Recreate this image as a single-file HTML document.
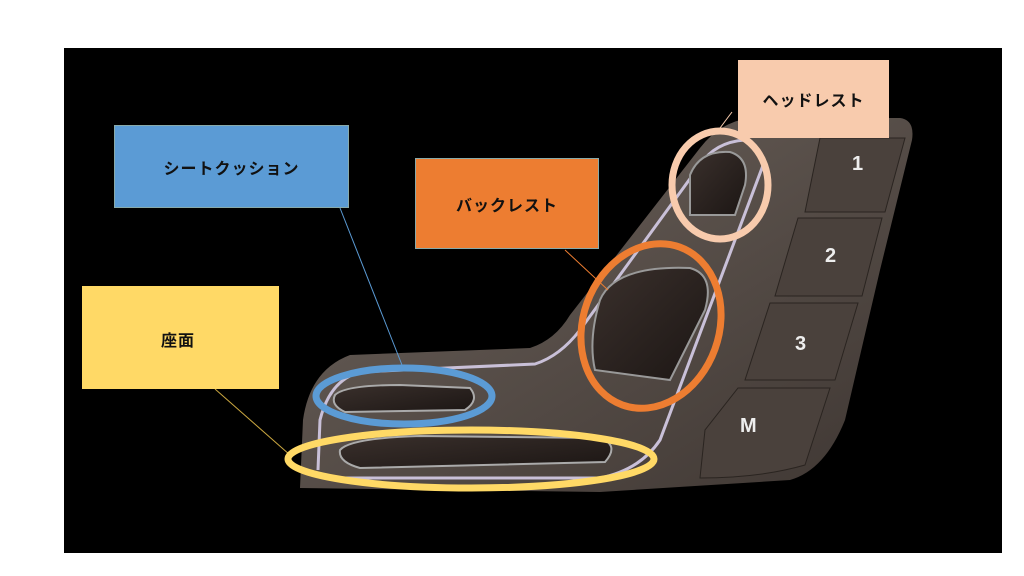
<!DOCTYPE html>
<html><head><meta charset="utf-8"><style>
body{margin:0;width:1024px;height:576px;background:#fff;overflow:hidden;font-family:"Liberation Sans","Noto Sans CJK JP",sans-serif}
.box{position:absolute;display:flex;align-items:center;justify-content:center;font-weight:bold;font-size:16px;color:#111;border:1px solid #8aa;box-sizing:border-box;letter-spacing:1px}
</style></head><body>
<svg width="1024" height="576" style="position:absolute;left:0;top:0">
<defs>
<linearGradient id="pg" x1="0" y1="0" x2="1" y2="1"><stop offset="0" stop-color="#6e645d"/><stop offset="1" stop-color="#3e3632"/></linearGradient>
<linearGradient id="bt" x1="0" y1="0" x2="1" y2="1"><stop offset="0" stop-color="#3a302c"/><stop offset="1" stop-color="#1c1614"/></linearGradient>
</defs>
<rect x="64" y="48" width="938" height="505" fill="#000"/>
<!-- panel -->
<path d="M300 488 L303 420 Q310 370 350 355 L530 348 Q555 340 570 315 L700 148 Q720 122 750 118 L900 118 Q915 120 912 140 L880 270 L845 420 Q825 470 790 480 L600 492 Z" fill="url(#pg)"/>
<path d="M318 470 L320 420 Q330 380 360 372 L535 364 Q560 356 580 330 L700 165 Q715 142 745 140" fill="none" stroke="#c9c0d8" stroke-width="3"/>
<path d="M330 478 L600 478 Q640 470 660 440 L765 160" fill="none" stroke="#c9c0d8" stroke-width="3"/>
<!-- buttons -->
<path d="M820 138 L905 138 L885 212 L805 212 Z" fill="#4a413c" stroke="#2a2420"/>
<path d="M798 218 L882 218 L862 296 L775 296 Z" fill="#4a413c" stroke="#2a2420"/>
<path d="M770 303 L858 303 L835 380 L745 380 Z" fill="#4a413c" stroke="#2a2420"/>
<path d="M738 388 L830 388 L805 465 Q760 478 700 478 L705 430 Z" fill="#4a413c" stroke="#2a2420"/>
<g fill="#eee" font-weight="bold" font-size="20" font-family="Liberation Sans">
<text x="852" y="170">1</text><text x="825" y="262">2</text><text x="795" y="350">3</text><text x="740" y="432">M</text></g>
<!-- controls -->
<path d="M690 175 Q700 150 730 152 Q750 158 745 185 L735 215 L690 215 Z" fill="url(#bt)" stroke="#999" stroke-width="2"/>
<path d="M600 300 Q615 265 690 268 Q715 275 705 310 L670 380 L595 370 Q588 340 600 300Z" fill="url(#bt)" stroke="#999" stroke-width="2"/>
<path d="M335 395 Q345 385 400 385 L470 388 Q480 400 465 410 L345 412 Q330 405 335 395Z" fill="url(#bt)" stroke="#aaa" stroke-width="2"/>
<path d="M340 450 Q350 438 420 436 L600 438 Q620 445 605 462 L360 468 Q338 462 340 450Z" fill="url(#bt)" stroke="#aaa" stroke-width="2"/>
<!-- leader lines -->
<line x1="340" y1="208" x2="402" y2="365" stroke="#5b9bd5" stroke-width="1"/>
<line x1="565" y1="250" x2="608" y2="290" stroke="#ed7d31" stroke-width="1"/>
<line x1="215" y1="389" x2="290" y2="455" stroke="#c9a640" stroke-width="1"/>
<line x1="732" y1="112" x2="720" y2="128" stroke="#f8cbad" stroke-width="1"/>
<!-- ellipses -->
<ellipse cx="404" cy="396" rx="88" ry="28" fill="none" stroke="#5b9bd5" stroke-width="7"/>
<ellipse cx="651" cy="326" rx="68" ry="84" transform="rotate(20 651 326)" fill="none" stroke="#ed7d31" stroke-width="7"/>
<ellipse cx="720" cy="185" rx="48" ry="54" fill="none" stroke="#f8cbad" stroke-width="7"/>
<ellipse cx="471" cy="459" rx="183" ry="29" fill="none" stroke="#ffd966" stroke-width="7"/>
</svg>
<div class="box" style="left:114px;top:125px;width:235px;height:83px;background:#5b9bd5">シートクッション</div>
<div class="box" style="left:415px;top:158px;width:184px;height:91px;background:#ed7d31">バックレスト</div>
<div class="box" style="left:738px;top:60px;width:151px;height:78px;background:#f8cbad;border-color:#f8cbad">ヘッドレスト</div>
<div class="box" style="left:82px;top:286px;width:197px;height:103px;background:#ffd966;border-color:#ffd966;justify-content:flex-start;padding-left:78px;align-items:flex-start;padding-top:40px">座面</div>
</body></html>
